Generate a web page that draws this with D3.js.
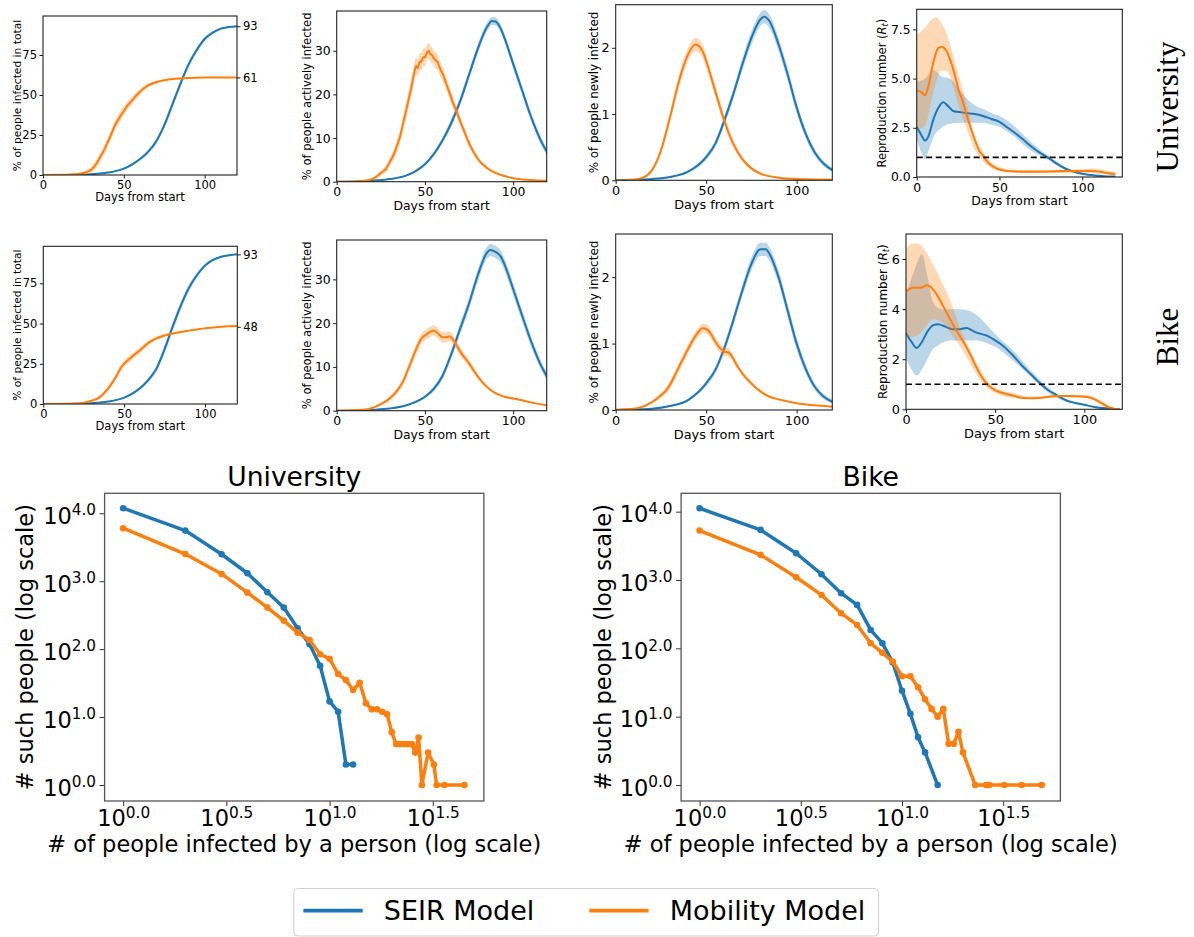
<!DOCTYPE html>
<html>
<head>
<meta charset="utf-8">
<script src="https://cdn.jsdelivr.net/npm/d3@7"></script>
<style>
body{margin:0;background:#fff;}
text{font-family:"DejaVu Sans",sans-serif;}
</style>
</head>
<body>
<div id="container"></div>
<script>
// ---------- University: % infected in total ----------
var uTotSeirDays = [0,10,20,30,40,50,55,60,65,70,75,80,85,90,95,100,105,110,115,120];
var uTotSeir     = [0,0.02,0.1,0.5,1.5,4,6.5,10,14.5,21,31,44,57,69,78,85,89,91.5,92.5,93];
var uTotSeirBand = [0,0,0,0.1,0.3,0.5,0.8,1,1.3,1.6,2,2.2,2.2,2,1.6,1.2,0.8,0.5,0.3,0.2];
var uTotMobDays  = [0,15,20,25,28,30,33,35,38,40,42,45,47,50,52,55,58,60,65,70,75,80,90,100,110,120];
var uTotMob      = [0,0.1,0.4,1.2,2.3,3.5,7,10.5,16,20.5,25,32,35.5,40,43,46.5,50,52,56,58,59.2,60,60.6,60.9,61,61];
var uTotMobBand  = [0,0.1,0.3,0.8,1.5,2,2.5,2.8,3,3,3,3,3,2.8,2.6,2.4,2,1.8,1.2,0.8,0.5,0.4,0.3,0.2,0.2,0.2];

// ---------- University: % actively infected ----------
var uActSeirDays = [0,10,20,30,40,45,50,55,60,65,70,75,80,85,88,90,93,95,100,105,110,115,120];
var uActSeir     = [0,0.05,0.2,0.6,1.5,2.5,4,6.3,9.5,13.5,18.5,24.5,30.5,35.3,36.8,36.7,35,33,27,21,15,10,6.2];
var uActSeirBand = [0,0,0,0.1,0.2,0.3,0.4,0.5,0.7,0.9,1,1.1,1.1,1,0.9,0.9,0.9,1,1.1,1.1,1,0.9,0.8];
var uActMobDays  = [0,10,15,20,22,25,28,30,32,34,36,38,40,42,44,45,46,47,48,49,50,51,52,53,54,55,56,57,58,59,60,62,64,66,68,70,73,75,78,80,85,90,95,100,110,120];
var uActMob      = [0,0.05,0.2,0.6,1,2,3,4.5,6,8,10.5,14,17.5,21,25,26.5,26,27.5,27.5,28.5,28.5,29.5,30,29.3,29,28.3,27.8,27.5,26.5,25.5,24.8,22.5,20.3,18,16,13.8,10.8,8.8,6.5,5.2,3.2,2,1.3,0.8,0.4,0.2];
var uActMobBand  = [0,0,0.1,0.2,0.4,0.6,0.8,1,1.2,1.4,1.6,1.8,2,2,2,2,2,2,2,2,2,1.8,1.8,1.8,1.8,1.8,1.8,1.8,1.6,1.6,1.6,1.5,1.4,1.3,1.2,1.1,1,0.9,0.7,0.6,0.4,0.3,0.2,0.1,0.1,0.1];

// ---------- University: % newly infected ----------
var uNewSeirDays = [0,10,20,30,40,50,55,60,65,70,75,80,82,85,90,95,100,105,110,115,120];
var uNewSeir     = [0,0.01,0.02,0.05,0.13,0.35,0.55,0.9,1.3,1.75,2.15,2.43,2.47,2.4,2.05,1.6,1.1,0.7,0.42,0.25,0.15];
var uNewSeirBand = [0,0,0,0.01,0.02,0.04,0.05,0.07,0.08,0.09,0.1,0.1,0.1,0.1,0.1,0.1,0.09,0.07,0.05,0.04,0.03];
var uNewMobDays  = [0,10,15,20,25,30,35,40,44,48,50,55,60,65,70,75,80,90,100,120];
var uNewMob      = [0,0.01,0.04,0.15,0.45,0.95,1.5,1.9,2.05,1.95,1.8,1.35,0.9,0.55,0.32,0.18,0.1,0.04,0.02,0.01];
var uNewMobBand  = [0,0,0.01,0.03,0.06,0.09,0.1,0.1,0.1,0.1,0.1,0.09,0.08,0.06,0.04,0.03,0.02,0.01,0.01,0];

// ---------- University: reproduction number ----------
var uRtSeirDays = [0,3,5,7,10,13,16,19,22,26,30,35,40,45,50,55,60,65,70,75,80,85,90,95,100,105,110,115,120];
var uRtSeir     = [2.55,2.1,1.85,2.05,2.9,3.5,3.8,3.6,3.35,3.3,3.25,3.2,3.1,2.95,2.8,2.5,2.2,1.85,1.5,1.2,0.95,0.65,0.42,0.27,0.17,0.1,0.06,0.03,0.02];
var uRtSeirBandDays = [0,3,5,7,10,15,20,25,30,35,40,45,50,55,60,65,70,75,80,90,100,110,120];
var uRtSeirLo   = [1.9,1.2,0.9,1.3,2.0,2.5,2.7,2.75,2.75,2.75,2.75,2.65,2.55,2.3,2.0,1.6,1.3,1.05,0.85,0.35,0.12,0.04,0];
var uRtSeirHi   = [4.85,4.9,5.0,5.2,5.45,5.1,5.0,4.55,4.0,3.65,3.45,3.25,3.1,2.85,2.5,2.1,1.7,1.35,1.05,0.5,0.22,0.08,0.04];
var uRtMobDays  = [0,3,5,7,10,13,15,18,20,23,25,28,30,33,36,38,40,42,45,48,50,55,60,70,80,90,100,105,110,115,120];
var uRtMob      = [4.4,4.3,4.15,4.6,5.8,6.55,6.6,6.4,6.0,5.2,4.5,3.8,3.2,2.4,1.7,1.3,1.1,0.85,0.6,0.45,0.38,0.3,0.28,0.27,0.28,0.3,0.3,0.3,0.28,0.2,0.15];
var uRtMobBandDays = [0,5,8,10,12,15,18,20,25,30,35,40,45,50,60,80,100,105,110,120];
var uRtMobLo    = [2.4,2.6,3.5,4.3,4.9,5.4,5.4,5.1,3.7,2.5,1.4,0.8,0.45,0.3,0.22,0.2,0.2,0.2,0.15,0.08];
var uRtMobHi    = [7.2,7.6,7.9,8.05,8.1,7.8,7.3,6.8,5.3,3.8,2.1,1.3,0.75,0.5,0.35,0.35,0.4,0.45,0.4,0.25];

// ---------- Bike: % infected in total ----------
var bTotSeirDays = [0,10,20,30,40,50,55,60,65,70,75,80,85,90,95,100,105,110,115,120];
var bTotSeir     = [0,0.02,0.1,0.5,1.5,4,6.5,10,15,22,34,48,61,72,80,86,89.5,91.5,92.5,93];
var bTotSeirBand = [0,0,0,0.1,0.3,0.5,0.8,1,1.5,2,2.5,2.8,2.6,2.2,1.7,1.2,0.8,0.5,0.3,0.2];
var bTotMobDays  = [0,15,20,25,30,35,40,45,48,50,55,60,65,70,75,80,85,90,95,100,105,110,115,120];
var bTotMob      = [0,0.1,0.3,0.8,2,4.3,9.5,17,22.5,25,29.5,33.5,38,40.8,42.6,43.8,44.8,45.6,46.3,47,47.5,48,48.3,48.5];
var bTotMobBand  = [0,0.1,0.2,0.4,0.8,1.2,1.6,2,2,2,2,1.8,1.5,1.2,0.9,0.7,0.5,0.4,0.3,0.3,0.2,0.2,0.2,0.2];

// ---------- Bike: % actively infected ----------
var bActSeirDays = [0,10,20,30,40,50,55,60,65,70,75,80,85,87,90,93,95,100,105,110,115,120];
var bActSeir     = [0,0.05,0.2,0.5,1.3,3.2,5,8,13,18.8,24.5,31,36,36.7,36.3,35.2,33.5,27.8,21.8,16,11,7.2];
var bActSeirBand = [0,0,0.05,0.1,0.2,0.4,0.6,0.8,1,1.2,1.3,1.4,1.4,1.4,1.4,1.4,1.4,1.4,1.3,1.2,1,0.9];
var bActMobDays  = [0,15,20,25,30,35,38,40,43,45,48,50,53,55,57,60,62,64,66,70,75,80,85,90,95,100,105,110,115,120];
var bActMob      = [0,0.2,0.6,1.5,2.8,5,7,9,12,14,16.5,17.2,18,18.3,17.8,16.8,16.8,17,16.2,13.5,10.8,7.8,5.5,4,3.2,2.8,2.4,1.9,1.5,1.2];
var bActMobBand  = [0,0.1,0.2,0.3,0.5,0.7,0.9,1,1.1,1.2,1.2,1.2,1.2,1.2,1.2,1.2,1.2,1.2,1.1,1,0.8,0.6,0.4,0.3,0.2,0.2,0.1,0.1,0.1,0.1];

// ---------- Bike: % newly infected ----------
var bNewSeirDays = [0,10,20,30,40,50,55,60,65,70,75,80,83,85,90,95,100,105,110,115,120];
var bNewSeir     = [0,0.01,0.02,0.06,0.15,0.4,0.6,0.93,1.35,1.8,2.2,2.42,2.42,2.35,2.0,1.5,1.0,0.62,0.35,0.2,0.12];
var bNewSeirBand = [0,0,0,0.01,0.02,0.04,0.05,0.07,0.08,0.09,0.1,0.1,0.1,0.1,0.1,0.1,0.09,0.07,0.05,0.04,0.03];
var bNewMobDays  = [0,10,15,20,25,28,30,35,40,45,48,50,53,55,58,60,62,64,66,70,75,80,85,90,95,100,110,120];
var bNewMob      = [0.005,0.02,0.05,0.12,0.22,0.3,0.38,0.65,0.92,1.15,1.23,1.22,1.13,1.03,0.92,0.88,0.87,0.82,0.72,0.55,0.4,0.28,0.2,0.16,0.13,0.1,0.07,0.05];
var bNewMobBand  = [0,0,0.01,0.02,0.04,0.05,0.06,0.07,0.07,0.07,0.07,0.07,0.07,0.07,0.07,0.07,0.07,0.06,0.05,0.04,0.03,0.02,0.02,0.01,0.01,0.01,0.01,0.01];

// ---------- Bike: reproduction number ----------
var bRtSeirDays = [0,3,6,9,12,15,18,22,26,30,34,37,40,45,50,55,60,65,70,75,80,85,90,95,100,105,110,115,120];
var bRtSeir     = [3.05,2.7,2.45,2.7,3.1,3.35,3.4,3.3,3.2,3.2,3.25,3.15,3.05,2.95,2.75,2.5,2.15,1.75,1.4,1.05,0.75,0.55,0.35,0.25,0.18,0.1,0.05,0.02,0];
var bRtSeirBandDays = [0,3,6,9,12,15,18,20,25,30,35,40,45,50,60,70,80,90,100,110,120];
var bRtSeirLo   = [2.05,1.6,1.35,1.6,2.0,2.4,2.55,2.65,2.75,2.75,2.75,2.75,2.65,2.5,1.95,1.3,0.65,0.3,0.15,0.05,0];
var bRtSeirHi   = [4.6,5.2,5.8,6.2,5.3,4.3,4.05,4.0,4.0,4.0,3.95,3.75,3.4,3.0,2.35,1.55,0.85,0.4,0.2,0.08,0.02];
var bRtMobDays  = [0,4,8,12,15,18,21,24,27,30,33,36,39,42,45,48,52,56,60,64,68,75,80,85,90,95,100,104,108,112,116,120];
var bRtMob      = [4.7,4.85,4.85,4.95,4.8,4.5,4.1,3.7,3.3,2.95,2.6,2.2,1.75,1.35,1.05,0.85,0.7,0.62,0.55,0.47,0.44,0.45,0.5,0.53,0.53,0.52,0.5,0.45,0.32,0.15,0.03,0];
var bRtMobBandDays = [0,3,6,9,12,15,20,25,30,35,40,45,50,60,70,80,90,100,105,110,115,120];
var bRtMobLo    = [2.9,2.9,2.95,3.1,3.4,3.6,3.5,3.05,2.55,1.95,1.35,0.9,0.65,0.45,0.4,0.45,0.48,0.45,0.38,0.12,0.01,0];
var bRtMobHi    = [6.4,6.6,6.62,6.5,6.2,5.8,5.1,4.3,3.3,2.5,1.8,1.2,0.85,0.65,0.5,0.55,0.58,0.57,0.5,0.3,0.1,0.02];

// ---------- secondary infection distributions ----------
var uDistSeirK = [1,2,3,4,5,6,7,8,9,10,11,12,13];
var uDistSeirN = [11885,5560,2495,1310,689,409,203,118,57,17,12,2,2];
var uDistMobK  = [1,2,3,4,5,6,7,8,9,10,11,12,13,14,15,16,17,18,19,20,21,22,23,24,25,26,27,28,30,32,33,36,45];
var uDistMobN  = [6026,2512,1279,679,409,263,175,136,84,72,43,35,25,32,16,13,13,12,11,6,4,4,4,4,4,3,5,1,3,2,1,1,1];
var bDistSeirK = [1,2,3,4,5,6,7,8,9,10,11,12,13,15];
var bDistSeirN = [11220,5410,2466,1216,641,432,186,119,62,24,11,5,3,1];
var bDistMobK  = [1,2,3,4,5,6,7,8,9,10,11,12,13,14,15,16,17,18,19,20,23,26,27,32,39,49];
var bDistMobN  = [5297,2333,1096,605,327,220,119,86,64,39,39,27,18,13,10,13,4,4,6,3,1,1,1,1,1,1];

var dayTicks = [0,50,100];
var logXExp = [0,0.5,1.0,1.5];
var logYExp = [0,1,2,3,4];
var legendNames = ["SEIR Model","Mobility Model"];

var width = 1194, height = 937;
var blue = "#1f77b4", orange = "#ff7f0e";

var svg = d3.select('div#container').append('svg')
	.attr('width', width).attr('height', height);

var clipCount = 0;

function panel(p){
	var g = svg.append('g');
	var x = d3.scaleLinear().domain([0, p.xmax]).range([p.x0, p.x1]);
	var y = d3.scaleLinear().domain([0, p.ymax]).range([p.y1, p.y0]);
	var cid = 'clip' + (clipCount++);
	svg.append('clipPath').attr('id', cid).append('rect')
		.attr('x', p.x0).attr('y', p.y0).attr('width', p.x1 - p.x0).attr('height', p.y1 - p.y0);
	var plot = g.append('g').attr('clip-path', 'url(#' + cid + ')');

	p.series.forEach(function(s){
		var bd = s.bandDays || s.days;
		var lo = s.lo || s.values.map(function(v, i){ return Math.max(0, v - s.spread[i]); });
		var hi = s.hi || s.values.map(function(v, i){ return v + s.spread[i]; });
		var area = d3.area()
			.x(function(d, i){ return x(bd[i]); })
			.y0(function(d, i){ return y(lo[i]); })
			.y1(function(d, i){ return y(hi[i]); })
			.curve(d3.curveMonotoneX);
		plot.append('path').attr('d', area(bd)).attr('fill', s.color).attr('fill-opacity', 0.3);
		var line = d3.line()
			.x(function(d, i){ return x(s.days[i]); })
			.y(function(d){ return y(d); })
			.curve(d3.curveMonotoneX);
		plot.append('path').attr('d', line(s.values)).attr('fill', 'none')
			.attr('stroke', s.color).attr('stroke-width', 2);
	});

	if(p.dashed){
		plot.append('line').attr('x1', x(0)).attr('x2', x(p.xmax))
			.attr('y1', y(p.dashed)).attr('y2', y(p.dashed))
			.attr('stroke', '#000').attr('stroke-width', 1.7).attr('stroke-dasharray', '6,3.5');
	}

	var xa = g.append('g').attr('transform', 'translate(0,' + p.y1 + ')')
		.call(d3.axisBottom(x).tickValues(dayTicks).tickSize(3.5).tickPadding(2.5));
	var ya = g.append('g').attr('transform', 'translate(' + p.x0 + ',0)')
		.call(d3.axisLeft(y).tickValues(p.yticks).tickFormat(p.yfmt || d3.format('d')).tickSize(3.5).tickPadding(2.5));
	[xa, ya].forEach(function(a){
		a.select('.domain').remove();
		a.selectAll('text').attr('font-size', p.fs).attr('font-family', 'DejaVu Sans').attr('fill', '#000');
		a.selectAll('line').attr('stroke', '#000').attr('stroke-width', 0.9);
	});

	if(p.endLabels){
		var ea = g.append('g').attr('transform', 'translate(' + p.x1 + ',0)')
			.call(d3.axisRight(y).tickValues(p.endLabels).tickFormat(d3.format('d')).tickSize(3.5).tickPadding(2.5));
		ea.select('.domain').remove();
		ea.selectAll('text').attr('font-size', p.fs).attr('font-family', 'DejaVu Sans').attr('fill', '#000');
		ea.selectAll('line').attr('stroke', '#000').attr('stroke-width', 0.9);
	}

	g.append('rect').attr('x', p.x0).attr('y', p.y0)
		.attr('width', p.x1 - p.x0).attr('height', p.y1 - p.y0)
		.attr('fill', 'none').attr('stroke', '#222').attr('stroke-width', 1.1);

	g.append('text').attr('x', (p.x0 + p.x1) / 2).attr('y', p.y1 + 2.25 * p.fs)
		.attr('text-anchor', 'middle').attr('font-size', p.fs).text('Days from start');

	var yl = g.append('text')
		.attr('transform', 'translate(' + (p.x0 - p.ylOff) + ',' + ((p.y0 + p.y1) / 2) + ') rotate(-90)')
		.attr('text-anchor', 'middle').attr('dy', '0.35em').attr('font-size', p.fs * 0.93);
	if(p.rt){
		yl.append('tspan').text('Reproduction number (');
		yl.append('tspan').attr('font-style', 'italic').text('R');
		yl.append('tspan').attr('font-style', 'italic').attr('font-size', '0.7em').attr('dy', '0.25em').text('t');
		yl.append('tspan').attr('dy', '-0.25em').text(')');
	} else {
		yl.text(p.ylabel);
	}
}

function powText(sel, exps){
	sel.each(function(d, i){
		var t = d3.select(this);
		t.text('');
		t.append('tspan').text('10');
		t.append('tspan').attr('dy', '-0.55em').attr('font-size', '0.68em').text(exps[i].toFixed(1));
	});
}

function logPanel(p){
	var g = svg.append('g');
	var x = d3.scaleLog().domain([Math.pow(10, p.lx0), Math.pow(10, p.lx1)]).range([p.x0, p.x1]);
	var y = d3.scaleLog().domain([Math.pow(10, p.ly0), Math.pow(10, p.ly1)]).range([p.y1, p.y0]);

	var xa = g.append('g').attr('transform', 'translate(0,' + p.y1 + ')')
		.call(d3.axisBottom(x).tickValues(logXExp.map(function(e){ return Math.pow(10, e); })).tickSize(5).tickPadding(4));
	var ya = g.append('g').attr('transform', 'translate(' + p.x0 + ',0)')
		.call(d3.axisLeft(y).tickValues(logYExp.map(function(e){ return Math.pow(10, e); })).tickSize(5).tickPadding(3.5));
	[xa, ya].forEach(function(a){
		a.select('.domain').remove();
		a.selectAll('text').attr('font-size', 22.5).attr('font-family', 'DejaVu Sans').attr('fill', '#000');
		a.selectAll('line').attr('stroke', '#333').attr('stroke-width', 1);
	});
	powText(xa.selectAll('text'), logXExp);
	powText(ya.selectAll('text'), logYExp);
	ya.selectAll('text').attr('dy', '0.45em');

	p.series.forEach(function(s){
		var pts = s.k.map(function(k, i){ return [k, s.n[i]]; });
		var line = d3.line().x(function(d){ return x(d[0]); }).y(function(d){ return y(d[1]); });
		g.append('path').attr('d', line(pts)).attr('fill', 'none')
			.attr('stroke', s.color).attr('stroke-width', 3.5).attr('stroke-linejoin', 'round');
		g.selectAll(null).data(pts).enter().append('circle')
			.attr('cx', function(d){ return x(d[0]); })
			.attr('cy', function(d){ return y(d[1]); })
			.attr('r', 3.3).attr('fill', s.color);
	});

	g.append('rect').attr('x', p.x0).attr('y', p.y0)
		.attr('width', p.x1 - p.x0).attr('height', p.y1 - p.y0)
		.attr('fill', 'none').attr('stroke', '#555').attr('stroke-width', 1.3);

	g.append('text').attr('x', (p.x0 + p.x1) / 2).attr('y', p.y0 - 7)
		.attr('text-anchor', 'middle').attr('font-size', 26.6).text(p.title);
	g.append('text').attr('x', (p.x0 + p.x1) / 2).attr('y', p.y1 + 51)
		.attr('text-anchor', 'middle').attr('font-size', 22.5).text('# of people infected by a person (log scale)');
	g.append('text')
		.attr('transform', 'translate(' + (p.x0 - p.ylOff) + ',' + ((p.y0 + p.y1) / 2) + ') rotate(-90)')
		.attr('text-anchor', 'middle').attr('dy', '0.35em').attr('font-size', 22.5)
		.text('# such people (log scale)');
}

// ---------- top rows ----------
panel({x0:43, x1:237, y0:16, y1:175, xmax:120, ymax:99.4, yticks:[0,25,50,75], fs:11.5, ylOff:26,
	ylabel:'% of people infected in total', endLabels:[93,61],
	series:[{days:uTotSeirDays, values:uTotSeir, spread:uTotSeirBand, color:blue},
	        {days:uTotMobDays, values:uTotMob, spread:uTotMobBand, color:orange}]});
panel({x0:336.7, x1:546.7, y0:11, y1:181.7, xmax:119, ymax:39.1, yticks:[0,10,20,30], fs:12.4, ylOff:30,
	ylabel:'% of people actively infected',
	series:[{days:uActSeirDays, values:uActSeir, spread:uActSeirBand, color:blue},
	        {days:uActMobDays, values:uActMob, spread:uActMobBand, color:orange}]});
panel({x0:615.7, x1:832.3, y0:4.7, y1:180.3, xmax:119.7, ymax:2.65, yticks:[0,1,2], fs:12.8, ylOff:21.7,
	ylabel:'% of people newly infected',
	series:[{days:uNewSeirDays, values:uNewSeir, spread:uNewSeirBand, color:blue},
	        {days:uNewMobDays, values:uNewMob, spread:uNewMobBand, color:orange}]});
panel({x0:916.7, x1:1122.3, y0:9.3, y1:177, xmax:124.2, ymax:8.52, yticks:[0,2.5,5,7.5], yfmt:d3.format('.1f'), fs:12.4, ylOff:34.4,
	rt:true, dashed:1,
	series:[{days:uRtSeirDays, values:uRtSeir, bandDays:uRtSeirBandDays, lo:uRtSeirLo, hi:uRtSeirHi, color:blue},
	        {days:uRtMobDays, values:uRtMob, bandDays:uRtMobBandDays, lo:uRtMobLo, hi:uRtMobHi, color:orange}]});

panel({x0:43.3, x1:237.3, y0:246.3, y1:404, xmax:120, ymax:98, yticks:[0,25,50,75], fs:11.5, ylOff:26.3,
	ylabel:'% of people infected in total', endLabels:[93,48],
	series:[{days:bTotSeirDays, values:bTotSeir, spread:bTotSeirBand, color:blue},
	        {days:bTotMobDays, values:bTotMob, spread:bTotMobBand, color:orange}]});
panel({x0:336.7, x1:546.7, y0:240, y1:410.7, xmax:119, ymax:39, yticks:[0,10,20,30], fs:12.4, ylOff:30,
	ylabel:'% of people actively infected',
	series:[{days:bActSeirDays, values:bActSeir, spread:bActSeirBand, color:blue},
	        {days:bActMobDays, values:bActMob, spread:bActMobBand, color:orange}]});
panel({x0:615.7, x1:832.3, y0:234, y1:410, xmax:119.7, ymax:2.65, yticks:[0,1,2], fs:12.9, ylOff:21.7,
	ylabel:'% of people newly infected',
	series:[{days:bNewSeirDays, values:bNewSeir, spread:bNewSeirBand, color:blue},
	        {days:bNewMobDays, values:bNewMob, spread:bNewMobBand, color:orange}]});
panel({x0:906, x1:1122.3, y0:234, y1:409.3, xmax:121.3, ymax:7.0, yticks:[0,2,4,6], fs:12.9, ylOff:23.3,
	rt:true, dashed:1,
	series:[{days:bRtSeirDays, values:bRtSeir, bandDays:bRtSeirBandDays, lo:bRtSeirLo, hi:bRtSeirHi, color:blue},
	        {days:bRtMobDays, values:bRtMob, bandDays:bRtMobBandDays, lo:bRtMobLo, hi:bRtMobHi, color:orange}]});

// row labels
[['University', 107], ['Bike', 337]].forEach(function(r){
	svg.append('text')
		.attr('transform', 'translate(1178,' + r[1] + ') rotate(-90)')
		.attr('text-anchor', 'middle')
		.style('font-family', '"Liberation Serif", serif')
		.attr('font-size', 31).text(r[0]);
});

// ---------- bottom log-log plots ----------
logPanel({x0:104.6, x1:483.9, y0:493.3, y1:801, lx0:-0.0898, lx1:1.7476, ly0:-0.2355, ly1:4.294, ylOff:79.6,
	title:'University',
	series:[{k:uDistSeirK, n:uDistSeirN, color:blue}, {k:uDistMobK, n:uDistMobN, color:orange}]});
logPanel({x0:681.1, x1:1060.4, y0:493.3, y1:801, lx0:-0.0914, lx1:1.7826, ly0:-0.234, ly1:4.269, ylOff:77.9,
	title:'Bike',
	series:[{k:bDistSeirK, n:bDistSeirN, color:blue}, {k:bDistMobK, n:bDistMobN, color:orange}]});

// ---------- legend ----------
var lg = svg.append('g');
lg.append('rect').attr('x', 293.8).attr('y', 888.5).attr('width', 584.8).attr('height', 47.5)
	.attr('rx', 4).attr('fill', '#fff').attr('stroke', '#d0d0d0').attr('stroke-width', 1);
var lx = d3.scalePoint().domain(legendNames).range([303.4, 589.3]);
legendNames.forEach(function(name, i){
	var c = i === 0 ? blue : orange;
	lg.append('line').attr('x1', lx(name)).attr('x2', lx(name) + 59.3)
		.attr('y1', 910.7).attr('y2', 910.7).attr('stroke', c).attr('stroke-width', 3.8);
	lg.append('text').attr('x', lx(name) + 80.4).attr('y', 920)
		.attr('font-size', 27).text(name);
});
</script>
</body>
</html>
